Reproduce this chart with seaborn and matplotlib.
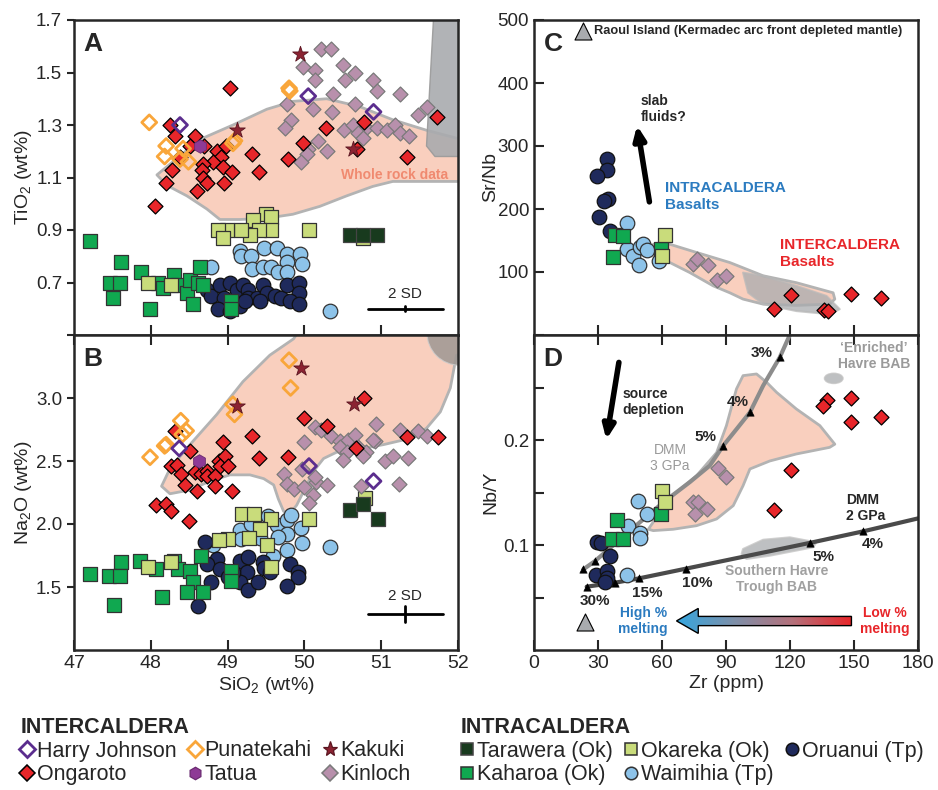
import numpy as np
import pandas as pd
import matplotlib
matplotlib.use("Agg")
import matplotlib.pyplot as plt
import seaborn as sns
from matplotlib.patches import Polygon, Ellipse
from matplotlib.lines import Line2D
from matplotlib.colors import LinearSegmentedColormap

# ---------------- Panel A : SiO2 vs TiO2 ----------------
A_ongaroto_sio2 = [49.03,48.25,48.31,48.57,48.51,48.69,48.86,48.98,48.92,48.81,48.94,48.68,48.27,48.67,49.06,48.68,48.73,48.95,48.60,48.20,48.06,49.32,49.41,49.79,49.98,50.28,50.77,50.69,51.33,51.73,48.38]
A_ongaroto_tio2 = [1.44,1.30,1.26,1.26,1.22,1.22,1.20,1.22,1.18,1.16,1.14,1.15,1.13,1.13,1.12,1.10,1.08,1.08,1.05,1.08,0.99,1.19,1.12,1.17,1.23,1.29,1.31,1.21,1.18,1.33,1.18]
A_kinloch_sio2 = [50.21,50.34,49.98,50.14,50.50,50.66,50.53,50.14,50.89,50.94,51.24,50.37,49.77,50.11,50.36,50.66,51.48,51.59,49.83,49.75,50.51,50.63,50.80,50.94,51.07,51.18,51.24,51.36,50.70,50.76,50.18,50.05,50.29,50.03,49.96]
A_kinloch_tio2 = [1.59,1.59,1.52,1.51,1.53,1.50,1.47,1.47,1.47,1.43,1.42,1.42,1.38,1.36,1.35,1.38,1.34,1.37,1.32,1.29,1.28,1.30,1.29,1.29,1.28,1.30,1.27,1.26,1.27,1.25,1.24,1.21,1.20,1.19,1.16]
A_punatekahi_sio2 = [47.98,48.20,48.18,48.42,48.38,48.49,49.09,49.07,49.80,49.81]
A_punatekahi_tio2 = [1.31,1.22,1.18,1.21,1.17,1.16,1.24,1.23,1.44,1.43]
A_harry_sio2 = [48.38,50.05,50.90]
A_harry_tio2 = [1.30,1.41,1.35]
A_kakuki_sio2 = [49.94,49.12,50.63]
A_kakuki_tio2 = [1.57,1.28,1.21]
A_tatua_sio2 = [48.64]
A_tatua_tio2 = [1.22]
A_okareka_sio2 = [49.50,49.57,49.56,49.33,49.41,49.29,49.18,48.99,48.88,48.94,50.06,47.97,48.26,50.76]
A_okareka_tio2 = [0.96,0.95,0.90,0.94,0.90,0.88,0.90,0.90,0.90,0.87,0.90,0.70,0.69,0.87]
A_tarawera_sio2 = [50.59,50.76,50.95]
A_tarawera_tio2 = [0.88,0.88,0.88]
A_kaharoa_sio2 = [47.21,47.61,47.47,47.60,47.51,47.87,47.99,48.10,48.16,48.30,48.36,48.47,48.51,48.64,48.62,48.68,48.55,49.05,49.05]
A_kaharoa_tio2 = [0.86,0.78,0.70,0.70,0.64,0.74,0.60,0.70,0.68,0.73,0.69,0.66,0.71,0.76,0.70,0.69,0.62,0.63,0.60]
A_waimihia_sio2 = [48.79,49.16,49.18,49.31,49.32,49.48,49.64,49.77,49.94,49.77,49.46,49.57,49.66,49.97,49.77,50.33]
A_waimihia_tio2 = [0.76,0.82,0.80,0.80,0.75,0.83,0.83,0.81,0.81,0.78,0.76,0.76,0.74,0.77,0.74,0.59]
A_oruanui_sio2 = [48.73,48.79,48.90,49.03,49.12,49.20,49.27,48.95,48.88,49.03,49.16,49.27,49.38,49.46,49.51,49.62,49.70,49.77,49.93,49.93,49.81,49.93,49.42,49.23]
A_oruanui_tio2 = [0.67,0.65,0.69,0.70,0.67,0.69,0.67,0.64,0.60,0.59,0.61,0.64,0.64,0.69,0.66,0.65,0.64,0.69,0.70,0.66,0.63,0.62,0.63,0.63]
A_wholerock_sio2 = [48.08,48.64,49.07,49.51,49.85,50.29,50.72,51.15,51.59,52.24,52.24,51.59,51.15,50.89,50.55,50.20,49.85,49.51,49.16,48.90,48.73,48.47,48.21]
A_wholerock_tio2 = [1.11,1.245,1.30,1.36,1.39,1.40,1.37,1.32,1.28,1.23,1.085,1.085,1.085,1.066,1.03,0.99,0.96,0.945,0.94,0.94,0.98,1.03,1.07]
A_grey_sio2 = [51.68,51.59,51.70,52.3,52.3]
A_grey_tio2 = [1.70,1.22,1.18,1.18,1.70]
A_sd_sio2 = [50.83,51.80]
A_sd_tio2 = 0.60

# ---------------- Panel B : SiO2 vs Na2O ----------------
B_ongaroto_sio2 = [50.77,49.99,48.31,49.32,48.94,50.29,48.51,49.41,49.79,48.89,48.96,48.90,49.00,48.26,48.34,48.39,48.57,48.66,48.73,48.73,48.84,48.44,48.60,49.06,48.84,48.07,48.20,48.26,48.50,51.33,51.74,50.67]
B_ongaroto_na2o = [3.00,2.84,2.74,2.70,2.65,2.78,2.58,2.52,2.53,2.50,2.54,2.46,2.46,2.46,2.47,2.40,2.41,2.40,2.42,2.38,2.38,2.31,2.26,2.26,2.30,2.15,2.16,2.10,2.02,2.69,2.69,2.60]
B_kinloch_sio2 = [50.14,50.22,50.34,50.93,51.24,51.48,51.59,50.46,50.57,50.66,50.46,50.55,50.70,50.80,50.76,50.50,50.92,50.89,51.05,51.15,51.35,51.23,50.74,49.99,49.97,49.73,49.77,49.86,49.99,50.15,50.29,50.11,50.06,50.14]
B_kinloch_na2o = [2.77,2.75,2.70,2.79,2.75,2.74,2.70,2.66,2.67,2.71,2.61,2.57,2.61,2.57,2.54,2.51,2.66,2.67,2.50,2.54,2.52,2.32,2.30,2.65,2.44,2.40,2.32,2.28,2.29,2.33,2.31,2.23,2.17,2.37]
B_punatekahi_sio2 = [49.80,49.82,49.07,49.09,48.39,48.46,48.41,48.20,48.18,47.99]
B_punatekahi_na2o = [3.30,3.08,2.95,2.87,2.82,2.74,2.71,2.63,2.62,2.53]
B_harry_sio2 = [48.37,50.06,50.90]
B_harry_na2o = [2.60,2.46,2.34]
B_kakuki_sio2 = [49.96,49.12,50.64]
B_kakuki_na2o = [3.24,2.94,2.95]
B_tatua_sio2 = [48.63]
B_tatua_na2o = [2.50]
B_okareka_sio2 = [49.19,49.34,49.56,50.06,49.42,49.28,49.00,48.89,49.51,49.57,47.97,48.26,50.79]
B_okareka_na2o = [2.08,2.08,2.04,2.04,1.96,1.89,1.88,1.87,1.83,1.66,1.66,1.70,2.21]
B_tarawera_sio2 = [50.59,50.76,50.96]
B_tarawera_na2o = [2.11,2.16,2.04]
B_kaharoa_sio2 = [47.21,47.61,47.46,47.60,47.52,47.86,48.07,48.15,48.30,48.36,48.51,48.55,48.65,48.47,48.68,49.05,49.05]
B_kaharoa_na2o = [1.60,1.70,1.59,1.59,1.36,1.71,1.64,1.42,1.71,1.64,1.63,1.54,1.75,1.46,1.46,1.63,1.55]
B_waimihia_sio2 = [49.16,49.18,49.53,49.64,49.77,49.83,49.96,49.97,49.77,49.66,49.77,49.59,50.33,48.81,49.42,49.30]
B_waimihia_na2o = [1.95,1.88,2.06,1.99,2.03,2.07,1.97,1.85,1.92,1.90,1.79,1.75,1.82,1.83,1.89,2.00]
B_oruanui_sio2 = [48.70,48.86,48.73,48.90,49.00,49.16,49.27,49.25,49.16,49.27,49.40,49.46,49.48,49.55,49.81,49.92,49.92,49.77,48.79,48.62,49.07]
B_oruanui_na2o = [1.86,1.72,1.68,1.64,1.58,1.71,1.74,1.62,1.54,1.48,1.54,1.70,1.65,1.62,1.68,1.62,1.58,1.51,1.54,1.35,1.62]
B_wholerock_sio2 = [48.14,48.25,48.51,48.86,49.20,49.55,49.86,50.0,52.2,52.2,51.98,51.90,51.77,51.59,51.38,51.03,50.68,50.42,50.25,50.12,49.99,49.90,49.81,49.73,49.66,49.60,49.47,49.29,49.03,48.77,48.51,48.25]
B_wholerock_na2o = [2.30,2.44,2.63,2.87,3.13,3.34,3.47,3.6,3.6,3.34,3.34,3.08,2.89,2.76,2.68,2.63,2.59,2.57,2.52,2.42,2.26,2.15,2.08,2.10,2.20,2.31,2.36,2.39,2.39,2.34,2.27,2.24]
B_grey_center = (52.02, 3.52)
B_sd_sio2 = [50.83,51.80]
B_sd_na2o = [1.22,1.35]

# ---------------- Panel C : Zr vs Sr/Nb ----------------
C_oruanui_zr = [34.0,34.3,29.4,34.8,32.8,30.6,35.6]
C_oruanui_srnb = [280,262,252,216,212,188,165]
C_kaharoa_zr = [37.9,41.8,36.8,59.5]
C_kaharoa_srnb = [158,157,124,136]
C_okareka_zr = [61.4,59.8]
C_okareka_srnb = [158,125]
C_waimihia_zr = [43.4,43.4,46.5,49.6,51.2,53.1,49.3,58.7]
C_waimihia_srnb = [177,136,126,140,144,135,111,117]
C_kinloch_zr = [74.3,76.5,81.7,86.0,89.9]
C_kinloch_srnb = [112,121,111,88,93]
C_ongaroto_zr = [112.4,120.4,135.8,137.9,148.8,162.8]
C_ongaroto_srnb = [42,64,39,38,65,59]
C_wholerock_zr = [55.9,63.7,76.2,91.8,107.4,123.0,140.2,141.0,138.6,123.0,107.4,98.0,91.8,84.0,73.1,63.7,59.0,55.9]
C_wholerock_srnb = [144,144,131,115,94,83,67,57,49,47,49,57,67,78,99,115,123,131]
C_grey_zr = [98.0,107.4,123.0,137.1,143.3,138.6,123.0,107.4,100.4]
C_grey_srnb = [99,94,78,62,41,33,38,49,67]
C_raoul_key = (23.1, 482.5)

# ---------------- Panel D : Zr vs Nb/Y ----------------
D_oruanui_zr = [29.4,31.2,35.6,29.0,34.3,34.0,33.2]
D_oruanui_nby = [0.1025,0.102,0.090,0.071,0.0756,0.069,0.0644]
D_waimihia_zr = [48.9,52.8,44.2,49.6,49.6,43.4]
D_waimihia_nby = [0.142,0.130,0.118,0.111,0.107,0.071]
D_kaharoa_zr = [38.7,36.4,41.8,59.5]
D_kaharoa_nby = [0.124,0.106,0.106,0.130]
D_okareka_zr = [59.8,61.4]
D_okareka_nby = [0.151,0.141]
D_kinloch_zr = [86.3,89.9,74.6,76.9,81.3,75.4]
D_kinloch_nby = [0.173,0.165,0.141,0.141,0.134,0.130]
D_ongaroto_zr = [137.4,135.5,148.8,148.8,162.8,120.7,112.4]
D_ongaroto_nby = [0.238,0.232,0.240,0.217,0.222,0.171,0.133]
D_raoul_zr = [23.9]
D_raoul_nby = [0.0263]
D_wholerock_zr = [53.6,63.7,76.2,85.6,90.2,94.9,98.0,104.3,109.0,113.7,123.0,134.0,141.0,138.6,123.0,110.5,101.2,98.0,93.4,85.6,76.2,65.3,55.9]
D_wholerock_nby = [0.115,0.145,0.166,0.188,0.2137,0.2486,0.2613,0.2629,0.255,0.2454,0.2295,0.2137,0.196,0.193,0.1867,0.180,0.1724,0.1565,0.1375,0.1248,0.1184,0.115,0.1137]
D_havre_zr = [98.0,107.4,119.9,132.4,130.8,110.5,99.6,97.3]
D_havre_nby = [0.0962,0.105,0.1073,0.1025,0.0978,0.0898,0.0867,0.0914]
D_enriched_center = (140.5, 0.2587)
D_dmm3_zr = [23.1,28.6,38.7,49.6,60.6,73.1,82.4,88.7,95.0,101.2,107.4,115.2,121.0]
D_dmm3_nby = [0.0768,0.0847,0.1025,0.1216,0.1406,0.160,0.1756,0.1946,0.2105,0.2263,0.2517,0.2787,0.305]
D_dmm3_tick_zr = [23.1,28.6,88.7,101.2,115.2]
D_dmm3_tick_nby = [0.0768,0.0847,0.1946,0.2263,0.2787]
D_dmm2_zr = [24.7,38.0,49.2,71.3,129.3,154.3,181.0]
D_dmm2_nby = [0.0603,0.0641,0.0682,0.0775,0.102,0.113,0.1258]
D_dmm2_tick_zr = [24.7,38.0,49.2,71.3,129.3,154.3]
D_dmm2_tick_nby = [0.0603,0.0641,0.0682,0.0775,0.102,0.113]
D_melt_arrow_zr = [148.8,77.0,77.0,66.8,77.0,77.0,148.8]
D_melt_arrow_nby = [0.0232,0.0232,0.0158,0.0277,0.0396,0.032,0.032]

# ---------------- styles ----------------
STY = {
    "Harry Johnson": dict(marker="D", fc="none", ec="#5B2D8E", s=58, lw=2.0),
    "Punatekahi":    dict(marker="D", fc="none", ec="#F9A63A", s=58, lw=2.0),
    "Kakuki":        dict(marker="*", fc="#8B2332", ec="#5a1520", s=140, lw=0.6),
    "Ongaroto":      dict(marker="D", fc="#E8262A", ec="black", s=58, lw=0.9),
    "Tatua":         dict(marker="h", fc="#8E3A96", ec="#6a2a70", s=95, lw=0.6),
    "Kinloch":       dict(marker="D", fc="#B890AC", ec="#7a7a7a", s=58, lw=0.9),
    "Tarawera (Ok)": dict(marker="s", fc="#183A1E", ec="#444444", s=110, lw=0.9),
    "Okareka (Ok)":  dict(marker="s", fc="#C9DC7B", ec="#333333", s=110, lw=0.9),
    "Oruanui (Tp)":  dict(marker="o", fc="#1F2A5C", ec="#111111", s=110, lw=0.9),
    "Kaharoa (Ok)":  dict(marker="s", fc="#10A850", ec="#333333", s=110, lw=0.9),
    "Waimihia (Tp)": dict(marker="o", fc="#8DC3E9", ec="#333333", s=110, lw=0.9),
}
SALMON = "#F9CFBE"
EDGE_GREY = "#B3B3B3"
GREY_FILL = "#A9ABAE"
BLUE_TXT = "#2B7BC0"
RED_TXT = "#E8262A"

sns.set_style("ticks")
FAM = ["Liberation Sans Narrow", "Liberation Sans", "DejaVu Sans"]
plt.rcParams["font.family"] = FAM
plt.rcParams["mathtext.fontset"] = "custom"
plt.rcParams["mathtext.rm"] = "Liberation Sans"
plt.rcParams["mathtext.default"] = "regular"

fig = plt.figure(figsize=(9.38, 7.90), dpi=100)
W, H = 938.0, 790.0
def box(l, t, r, b):
    return [l / W, 1 - b / H, (r - l) / W, (b - t) / H]
axA = fig.add_axes(box(74, 20, 458, 335))
axB = fig.add_axes(box(74, 335, 458, 650))
axC = fig.add_axes(box(534, 20, 918, 335))
axD = fig.add_axes(box(534, 335, 918, 650))

def pts(ax, x, y, key, z=4):
    st = STY[key]
    df = pd.DataFrame({"x": x, "y": y})
    if st["fc"] == "none":
        sns.scatterplot(data=df, x="x", y="y", ax=ax, marker=st["marker"], s=st["s"],
                        facecolor="none", edgecolor=st["ec"], linewidth=st["lw"],
                        legend=False, zorder=z)
    else:
        sns.scatterplot(data=df, x="x", y="y", ax=ax, marker=st["marker"], s=st["s"],
                        color=st["fc"], edgecolor=st["ec"], linewidth=st["lw"],
                        legend=False, zorder=z)

def poly(ax, x, y, fc, ec=EDGE_GREY, lw=2.0, z=1, alpha=1.0):
    p = Polygon(np.column_stack([x, y]), closed=True, facecolor=fc, edgecolor=ec,
                linewidth=lw, zorder=z, alpha=alpha, joinstyle="round")
    ax.add_patch(p)
    return p

BFAM = ["Liberation Sans", "DejaVu Sans"]

# ---- Panel A ----
poly(axA, A_wholerock_sio2, A_wholerock_tio2, SALMON)
poly(axA, A_grey_sio2, A_grey_tio2, GREY_FILL, ec="#9a9a9a", lw=1.0, z=1.5, alpha=0.9)
for key, x, y in [("Waimihia (Tp)", A_waimihia_sio2, A_waimihia_tio2),
                  ("Oruanui (Tp)", A_oruanui_sio2, A_oruanui_tio2),
                  ("Kaharoa (Ok)", A_kaharoa_sio2, A_kaharoa_tio2),
                  ("Okareka (Ok)", A_okareka_sio2, A_okareka_tio2),
                  ("Tarawera (Ok)", A_tarawera_sio2, A_tarawera_tio2),
                  ("Kinloch", A_kinloch_sio2, A_kinloch_tio2),
                  ("Ongaroto", A_ongaroto_sio2, A_ongaroto_tio2),
                  ("Punatekahi", A_punatekahi_sio2, A_punatekahi_tio2),
                  ("Harry Johnson", A_harry_sio2, A_harry_tio2),
                  ("Tatua", A_tatua_sio2, A_tatua_tio2),
                  ("Kakuki", A_kakuki_sio2, A_kakuki_tio2)]:
    pts(axA, x, y, key)
axA.plot(A_sd_sio2, [A_sd_tio2] * 2, color="black", lw=2, zorder=5)
axA.plot([np.mean(A_sd_sio2)] * 2, [A_sd_tio2 - 0.01, A_sd_tio2 + 0.01], color="black", lw=2, zorder=5)
axA.text(np.mean(A_sd_sio2), A_sd_tio2 + 0.03, "2 SD", ha="center", va="bottom", fontsize=11)
axA.text(51.18, 1.11, "Whole rock data", color="#F08A70", fontsize=10, fontweight="bold",
         ha="center", va="center", family=BFAM, zorder=3)
axA.set_xlim(47, 52)
axA.set_ylim(0.5, 1.7)
axA.set_yticks([0.5, 0.7, 0.9, 1.1, 1.3, 1.5, 1.7])
axA.set_yticklabels(["", "0.7", "0.9", "1.1", "1.3", "1.5", "1.7"])
axA.set_xticks([48, 49, 50, 51])
axA.tick_params(axis="x", direction="in", labelbottom=False, length=7, width=1.5)
axA.set_ylabel("TiO$_2$ (wt%)", fontsize=14, labelpad=4)

# ---- Panel B ----
poly(axB, B_wholerock_sio2, B_wholerock_na2o, SALMON)
axB.add_patch(Ellipse(B_grey_center, 0.85, 0.52, facecolor="#9e9793", edgecolor="#cccccc",
                      lw=0.8, alpha=0.85, zorder=1.5))
for key, x, y in [("Waimihia (Tp)", B_waimihia_sio2, B_waimihia_na2o),
                  ("Oruanui (Tp)", B_oruanui_sio2, B_oruanui_na2o),
                  ("Kaharoa (Ok)", B_kaharoa_sio2, B_kaharoa_na2o),
                  ("Okareka (Ok)", B_okareka_sio2, B_okareka_na2o),
                  ("Tarawera (Ok)", B_tarawera_sio2, B_tarawera_na2o),
                  ("Kinloch", B_kinloch_sio2, B_kinloch_na2o),
                  ("Ongaroto", B_ongaroto_sio2, B_ongaroto_na2o),
                  ("Punatekahi", B_punatekahi_sio2, B_punatekahi_na2o),
                  ("Harry Johnson", B_harry_sio2, B_harry_na2o),
                  ("Tatua", B_tatua_sio2, B_tatua_na2o),
                  ("Kakuki", B_kakuki_sio2, B_kakuki_na2o)]:
    pts(axB, x, y, key)
ymid = np.mean(B_sd_na2o)
axB.plot(B_sd_sio2, [ymid] * 2, color="black", lw=2, zorder=5)
axB.plot([np.mean(B_sd_sio2)] * 2, B_sd_na2o, color="black", lw=2, zorder=5)
axB.text(np.mean(B_sd_sio2), B_sd_na2o[1] + 0.02, "2 SD", ha="center", va="bottom", fontsize=11)
axB.set_xlim(47, 52)
axB.set_ylim(1.0, 3.5)
axB.set_yticks([1.5, 2.0, 2.5, 3.0])
axB.set_xticks([47, 48, 49, 50, 51, 52])
axB.tick_params(axis="x", direction="in", top=True, length=7, width=1.5, labelsize=14)
axB.set_xlabel("SiO$_2$ (wt%)", fontsize=14, labelpad=2)
axB.set_ylabel("Na$_2$O (wt%)", fontsize=14, labelpad=4)

# ---- Panel C ----
poly(axC, C_wholerock_zr, C_wholerock_srnb, SALMON)
poly(axC, C_grey_zr, C_grey_srnb, GREY_FILL, ec="#b8b8b8", lw=1.5, z=1.5, alpha=0.75)
for key, x, y in [("Waimihia (Tp)", C_waimihia_zr, C_waimihia_srnb),
                  ("Oruanui (Tp)", C_oruanui_zr, C_oruanui_srnb),
                  ("Kaharoa (Ok)", C_kaharoa_zr, C_kaharoa_srnb),
                  ("Okareka (Ok)", C_okareka_zr, C_okareka_srnb),
                  ("Kinloch", C_kinloch_zr, C_kinloch_srnb),
                  ("Ongaroto", C_ongaroto_zr, C_ongaroto_srnb)]:
    pts(axC, x, y, key)
sns.scatterplot(x=[C_raoul_key[0]], y=[C_raoul_key[1]], ax=axC, marker="^", s=150,
                color="#A9ABAE", edgecolor="black", linewidth=0.8, legend=False, zorder=5)
axC.text(C_raoul_key[0] + 5.2, C_raoul_key[1], "Raoul Island (Kermadec arc front depleted mantle)",
         fontsize=9.3, fontweight="bold", va="center", ha="left", family=BFAM)
axC.annotate("", xy=(48.1, 337), xytext=(54.3, 207),
             arrowprops=dict(arrowstyle="-|>,head_width=0.35,head_length=0.8", lw=4, color="black"))
axC.text(50.1, 359, "slab\nfluids?", fontsize=10, fontweight="bold", ha="left", va="center",
         linespacing=1.2, family=BFAM)
axC.text(61.4, 220, "INTRACALDERA\nBasalts", color=BLUE_TXT, fontsize=11, fontweight="bold",
         ha="left", va="center", linespacing=1.25, family=BFAM)
axC.text(115.5, 129.6, "INTERCALDERA\nBasalts", color=RED_TXT, fontsize=11, fontweight="bold",
         ha="left", va="center", linespacing=1.25, family=BFAM)
axC.set_xlim(0, 180)
axC.set_ylim(0, 500)
axC.set_yticks([0, 100, 200, 300, 400, 500])
axC.set_yticklabels(["", "100", "200", "300", "400", "500"])
axC.set_xticks([30, 60, 90, 120, 150])
axC.tick_params(axis="x", direction="in", labelbottom=False, length=7, width=1.5)
axC.tick_params(axis="y", direction="in", length=7, width=1.5)
axC.set_ylabel("Sr/Nb", fontsize=14, labelpad=4)

# ---- Panel D ----
poly(axD, D_wholerock_zr, D_wholerock_nby, SALMON)
poly(axD, D_havre_zr, D_havre_nby, GREY_FILL, ec="#c0c0c0", lw=1.5, z=1.5, alpha=0.75)
axD.add_patch(Ellipse(D_enriched_center, 8.6, 0.0095, facecolor=GREY_FILL, edgecolor="#c0c0c0",
                      lw=1.2, alpha=0.75, zorder=1.5))
sns.lineplot(x=D_dmm3_zr, y=D_dmm3_nby, ax=axD, color="#8c8c8c", lw=3, sort=False, zorder=2,
             legend=False)
sns.lineplot(x=D_dmm2_zr, y=D_dmm2_nby, ax=axD, color="#4a4a4a", lw=3, sort=False, zorder=2,
             legend=False)
sns.scatterplot(x=D_dmm3_tick_zr, y=D_dmm3_tick_nby, ax=axD, marker="^", s=28, color="black",
                edgecolor="black", legend=False, zorder=6)
sns.scatterplot(x=D_dmm2_tick_zr, y=D_dmm2_tick_nby, ax=axD, marker="^", s=28, color="black",
                edgecolor="black", legend=False, zorder=6)
for key, x, y in [("Waimihia (Tp)", D_waimihia_zr, D_waimihia_nby),
                  ("Oruanui (Tp)", D_oruanui_zr, D_oruanui_nby),
                  ("Kaharoa (Ok)", D_kaharoa_zr, D_kaharoa_nby),
                  ("Okareka (Ok)", D_okareka_zr, D_okareka_nby),
                  ("Kinloch", D_kinloch_zr, D_kinloch_nby),
                  ("Ongaroto", D_ongaroto_zr, D_ongaroto_nby)]:
    pts(axD, x, y, key)
sns.scatterplot(x=D_raoul_zr, y=D_raoul_nby, ax=axD, marker="^", s=150, color="#A9ABAE",
                edgecolor="black", linewidth=0.8, legend=False, zorder=5)
# melting gradient arrow
arrow = Polygon(np.column_stack([D_melt_arrow_zr, D_melt_arrow_nby]), closed=True,
                facecolor="none", edgecolor="black", lw=1.0, zorder=4)
axD.add_patch(arrow)
cmap = LinearSegmentedColormap.from_list("melt", ["#35A6DF", "#7F8FA8", "#B5707A", "#E8262A"])
grad = np.linspace(0, 1, 256).reshape(1, -1)
im = axD.imshow(grad, extent=[min(D_melt_arrow_zr), max(D_melt_arrow_zr),
                              min(D_melt_arrow_nby), max(D_melt_arrow_nby)],
                cmap=cmap, aspect="auto", zorder=3, interpolation="bilinear")
im.set_clip_path(arrow)
axD.annotate("", xy=(33.7, 0.1978), xytext=(40.0, 0.2765),
             arrowprops=dict(arrowstyle="-|>,head_width=0.35,head_length=0.8", lw=4, color="black"))
axD.text(41.5, 0.2365, "source\ndepletion", fontsize=10, fontweight="bold", ha="left", va="center",
         linespacing=1.2, family=BFAM)
axD.text(63.7, 0.1825, "DMM\n3 GPa", color="#9a9a9a", fontsize=10, ha="center", va="center",
         linespacing=1.2, family=BFAM)
axD.text(159.3, 0.2797, "\u2018Enriched\u2019\nHavre BAB", color="#9a9a9a", fontsize=10,
         fontweight="bold", ha="center", va="center", linespacing=1.2, family=BFAM)
axD.text(146.1, 0.1349, "DMM\n2 GPa", fontsize=10, fontweight="bold", ha="left", va="center",
         linespacing=1.2, family=BFAM)
axD.text(113.7, 0.0676, "Southern Havre\nTrough BAB", color="#a0a0a0", fontsize=10,
         fontweight="bold", ha="center", va="center", linespacing=1.2, family=BFAM)
for lab, zx, ny in [("3%", 106.6, 0.2829), ("4%", 95.7, 0.2359), ("5%", 80.6, 0.2025),
                    ("5%", 135.5, 0.0883), ("4%", 159.0, 0.101), ("30%", 28.6, 0.0465),
                    ("15%", 53.1, 0.0545), ("10%", 76.6, 0.0634)]:
    axD.text(zx, ny, lab, fontsize=11, fontweight="bold", ha="center", va="center", family=BFAM)
axD.text(51.2, 0.0279, "High %\nmelting", color=BLUE_TXT, fontsize=10, fontweight="bold",
         ha="center", va="center", linespacing=1.2, family=BFAM)
axD.text(164.4, 0.0279, "Low %\nmelting", color=RED_TXT, fontsize=10, fontweight="bold",
         ha="center", va="center", linespacing=1.2, family=BFAM)
axD.set_xlim(0, 180)
axD.set_ylim(0, 0.3)
axD.set_yticks([0.05, 0.1, 0.15, 0.2, 0.25])
axD.set_yticklabels(["", "0.1", "", "0.2", ""])
axD.set_xticks([0, 30, 60, 90, 120, 150, 180])
axD.tick_params(axis="x", direction="in", top=True, length=7, width=1.5, labelsize=14)
axD.tick_params(axis="y", direction="in", length=7, width=1.5)
axD.set_xlabel("Zr (ppm)", fontsize=14, labelpad=2)
axD.set_ylabel("Nb/Y", fontsize=14, labelpad=4)

for ax, letter in [(axA, "A"), (axB, "B"), (axC, "C"), (axD, "D")]:
    for sp in ax.spines.values():
        sp.set_linewidth(1.8)
        sp.set_visible(True)
        sp.set_zorder(10)
    ax.tick_params(axis="y", labelsize=13.5)
    ax.tick_params(axis="y", width=1.5)
    ax.text(0.05, 0.925, letter, transform=ax.transAxes, fontsize=19, fontweight="bold",
            ha="center", va="center", family=BFAM, zorder=11)
axA.tick_params(axis="y", direction="out", length=5)
axB.tick_params(axis="y", direction="out", length=5)
axA.yaxis.set_label_coords(-0.105, 0.5)
axB.yaxis.set_label_coords(-0.105, 0.5)
axC.yaxis.set_label_coords(-0.09, 0.5)
axD.yaxis.set_label_coords(-0.09, 0.5)

# ---- Legends ----
def handle(key, ms):
    st = STY[key]
    return Line2D([], [], linestyle="none", marker=st["marker"], markersize=ms,
                  markerfacecolor=st["fc"], markeredgecolor=st["ec"],
                  markeredgewidth=min(st["lw"] * 0.8 + 0.4, 2))
inter_keys = ["Harry Johnson", "Ongaroto", "Punatekahi", "Tatua", "Kakuki", "Kinloch"]
inter_sizes = [8, 8, 8, 9, 11, 8]
intra_keys = ["Tarawera (Ok)", "Kaharoa (Ok)", "Okareka (Ok)", "Waimihia (Tp)", "Oruanui (Tp)"]
leg_kw = dict(ncol=3, frameon=False, fontsize=15.5, handlelength=0.6, handletextpad=0.15,
              columnspacing=0.55, labelspacing=0.12, borderpad=0.1,
              title_fontproperties={"weight": "bold", "size": 15.5, "family": BFAM})
leg1 = fig.legend([handle(k, s) for k, s in zip(inter_keys, inter_sizes)], inter_keys,
                  title="INTERCALDERA", loc="upper left", bbox_to_anchor=(8 / W, 1 - 704 / H), **leg_kw)
leg1._legend_box.align = "left"
leg2 = fig.legend([handle(k, 9) for k in intra_keys], intra_keys,
                  title="INTRACALDERA", loc="upper left", bbox_to_anchor=(448 / W, 1 - 704 / H), **leg_kw)
leg2._legend_box.align = "left"

fig.savefig("out.png", dpi=100)
